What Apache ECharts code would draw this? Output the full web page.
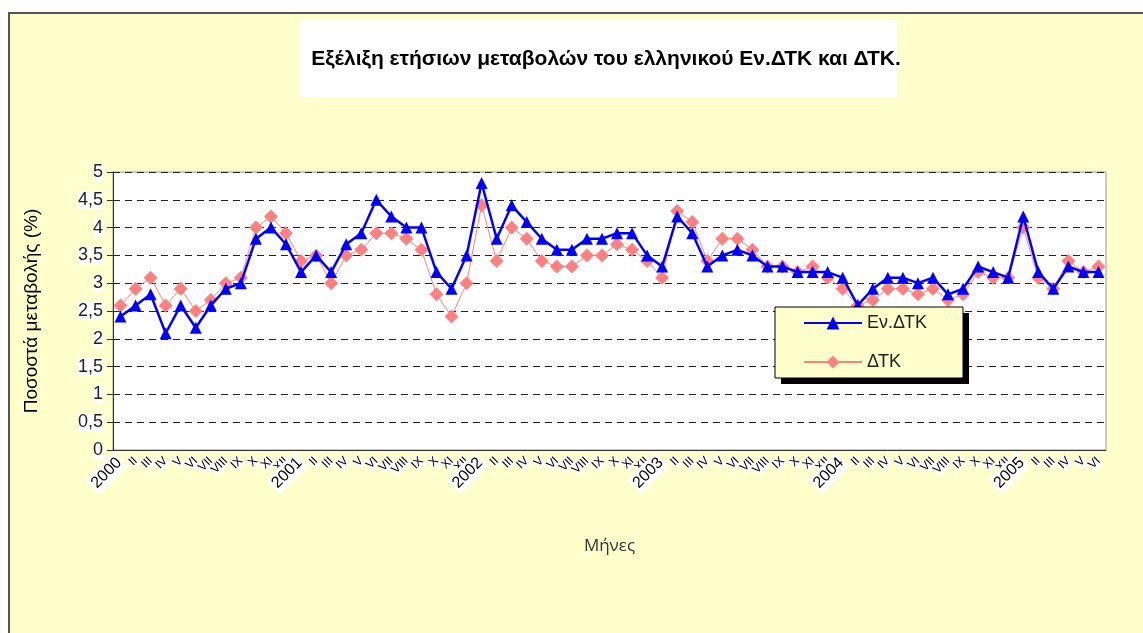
<!DOCTYPE html>
<html>
<head>
<meta charset="utf-8">
<script src="https://cdn.jsdelivr.net/npm/echarts@6/dist/echarts.min.js"></script>
<style>
  html, body { margin: 0; padding: 0; background: #fff; }
  #frame {
    position: absolute; left: 8px; top: 12px; width: 1140px; height: 630px;
    background: #FFFFCC; border: 2px solid #555;
  }
  #chart { position: absolute; left: 0; top: 0; width: 1143px; height: 633px; }
</style>
</head>
<body>
<div id="frame"></div>
<div id="chart"></div>
<script>
// μήνες: Ιαν. 2000 - Ιουν. 2005
var years = ["2000", "2001", "2002", "2003", "2004", "2005"];
var roman = ["I", "II", "III", "IV", "V", "VI", "VII", "VIII", "IX", "X", "XI", "XII"];
var monthsIn2005 = 6;

// Εν.ΔΤΚ (εναρμονισμένος)
var hicp = [
  2.4, 2.6, 2.8, 2.1, 2.6, 2.2, 2.6, 2.9, 3.0, 3.8, 4.0, 3.7,
  3.2, 3.5, 3.2, 3.7, 3.9, 4.5, 4.2, 4.0, 4.0, 3.2, 2.9, 3.5,
  4.8, 3.8, 4.4, 4.1, 3.8, 3.6, 3.6, 3.8, 3.8, 3.9, 3.9, 3.5,
  3.3, 4.2, 3.9, 3.3, 3.5, 3.6, 3.5, 3.3, 3.3, 3.2, 3.2, 3.2,
  3.1, 2.6, 2.9, 3.1, 3.1, 3.0, 3.1, 2.8, 2.9, 3.3, 3.2, 3.1,
  4.2, 3.2, 2.9, 3.3, 3.2, 3.2
];
// ΔΤΚ
var cpi = [
  2.6, 2.9, 3.1, 2.6, 2.9, 2.5, 2.7, 3.0, 3.1, 4.0, 4.2, 3.9,
  3.4, 3.5, 3.0, 3.5, 3.6, 3.9, 3.9, 3.8, 3.6, 2.8, 2.4, 3.0,
  4.4, 3.4, 4.0, 3.8, 3.4, 3.3, 3.3, 3.5, 3.5, 3.7, 3.6, 3.4,
  3.1, 4.3, 4.1, 3.4, 3.8, 3.8, 3.6, 3.3, 3.3, 3.2, 3.3, 3.1,
  2.9, 2.6, 2.7, 2.9, 2.9, 2.8, 2.9, 2.7, 2.8, 3.2, 3.1, 3.1,
  4.0, 3.1, 2.9, 3.4, 3.2, 3.3
];

var categories = [];
years.forEach(function (y, i) {
  var n = (i === years.length - 1) ? monthsIn2005 : 12;
  for (var m = 0; m < n; m++) {
    categories.push(m === 0 ? y : roman[m]);
  }
});

var chart = echarts.init(document.getElementById("chart"));
var option = {
  backgroundColor: "transparent",
  animation: false,
  title: {
    text: "Εξέλιξη ετήσιων μεταβολών του ελληνικού Εν.ΔΤΚ και ΔΤΚ.",
    left: 601,
    top: 44,
    textAlign: "center",
    textStyle: {
      fontFamily: "Liberation Sans, Arial",
      fontSize: 21,
      fontWeight: "bold",
      color: "#000"
    }
  },
  graphic: [
    // λευκό πλαίσιο τίτλου
    { type: "rect", z: -1, shape: { x: 300, y: 20, width: 597, height: 78 }, style: { fill: "#fff" } },
    // πλαίσιο υπομνήματος με σκιά
    { type: "rect", z: 10, shape: { x: 781, y: 313, width: 188, height: 71 }, style: { fill: "#000" } },
    { type: "rect", z: 11, shape: { x: 775, y: 307, width: 188, height: 71 },
      style: { fill: "#FFFFCC", stroke: "#000", lineWidth: 1 } }
  ],
  legend: {
    orient: "vertical",
    left: 803,
    top: 314,
    z: 12,
    padding: 0,
    itemGap: 21,
    itemWidth: 58,
    itemHeight: 16,
    textStyle: { fontFamily: "Liberation Sans, Arial", fontSize: 18, color: "#222" },
    data: ["Εν.ΔΤΚ", "ΔΤΚ"]
  },
  grid: {
    left: 113,
    right: 37,
    top: 172,
    bottom: 183,
    show: true,
    backgroundColor: "#fff",
    borderColor: "#999",
    borderWidth: 1
  },
  xAxis: {
    type: "category",
    data: categories,
    name: "Μήνες",
    nameLocation: "middle",
    nameGap: 88,
    nameTextStyle: { fontFamily: "Open Sans", fontSize: 17, color: "#333" },
    axisLine: { lineStyle: { color: "#333", width: 1 } },
    axisTick: { interval: 0, length: 5, lineStyle: { color: "#333" } },
    axisLabel: {
      interval: 0,
      rotate: 45,
      margin: 9,
      fontFamily: "Liberation Sans, Arial",
      color: "#000",
      formatter: function (v) {
        return /^\d{4}$/.test(v) ? "{y|" + v + "}" : "{m|" + v + "}";
      },
      rich: {
        y: { fontSize: 16, backgroundColor: "#fff", padding: [2, 2] },
        m: { fontSize: 12, backgroundColor: "#fff" }
      }
    }
  },
  yAxis: {
    type: "value",
    min: 0,
    max: 5,
    interval: 0.5,
    name: "Ποσοστά μεταβολής (%)",
    nameLocation: "middle",
    nameGap: 72,
    nameTextStyle: { fontFamily: "Liberation Sans, Arial", fontSize: 19, color: "#000" },
    axisLine: { show: true, lineStyle: { color: "#333", width: 1 } },
    axisTick: { show: true, length: 6, lineStyle: { color: "#333" } },
    axisLabel: {
      margin: 10,
      fontFamily: "Liberation Sans, Arial",
      fontSize: 18,
      color: "#222",
      backgroundColor: "#fff",
      formatter: function (v) { return String(v).replace(".", ","); }
    },
    splitLine: { lineStyle: { color: "#222", type: [7, 5], width: 1 } }
  },
  series: [
    {
      name: "Εν.ΔΤΚ",
      type: "line",
      data: hicp,
      symbol: "triangle",
      symbolSize: 12,
      z: 3,
      itemStyle: { color: "#0000FF" },
      lineStyle: { color: "#0000FF", width: 2.5 }
    },
    {
      name: "ΔΤΚ",
      type: "line",
      data: cpi,
      symbol: "diamond",
      symbolSize: 14,
      z: 2,
      itemStyle: { color: "#FF8080" },
      lineStyle: { color: "#FF8080", width: 1 }
    }
  ]
};
chart.setOption(option);
</script>
</body>
</html>
